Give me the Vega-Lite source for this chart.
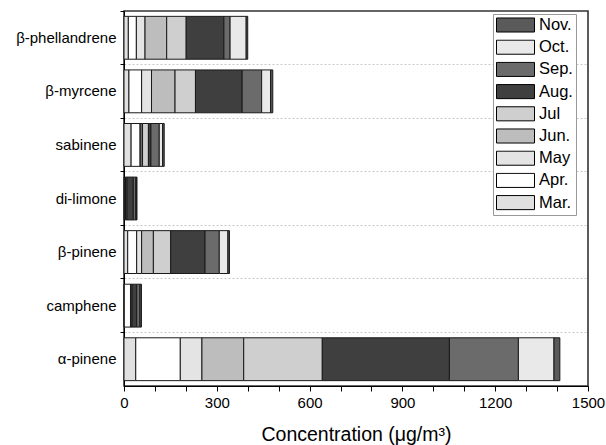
{
  "$schema": "https://vega.github.io/schema/vega-lite/v6.json",
  "autosize": {"type": "none"},
  "padding": {"left": 124, "top": 11, "right": 18, "bottom": 59},
  "width": 464,
  "height": 375,
  "config": {
    "font": "Liberation Sans",
    "view": {"stroke": "#333", "strokeWidth": 1.6},
    "axis": {"domainColor": "#000", "tickColor": "#000", "labelColor": "#000", "titleColor": "#000", "labelFont": "Liberation Sans", "titleFont": "Liberation Sans", "titleFontWeight": "normal"}
  },
  "data": {"values": [
    {"compound": "β-phellandrene", "month": "Mar.", "mn": 3, "value": 14},
    {"compound": "β-phellandrene", "month": "Apr.", "mn": 4, "value": 26},
    {"compound": "β-phellandrene", "month": "May", "mn": 5, "value": 28},
    {"compound": "β-phellandrene", "month": "Jun.", "mn": 6, "value": 70},
    {"compound": "β-phellandrene", "month": "Jul", "mn": 7, "value": 63},
    {"compound": "β-phellandrene", "month": "Aug.", "mn": 8, "value": 122},
    {"compound": "β-phellandrene", "month": "Sep.", "mn": 9, "value": 20},
    {"compound": "β-phellandrene", "month": "Oct.", "mn": 10, "value": 52},
    {"compound": "β-phellandrene", "month": "Nov.", "mn": 11, "value": 5},
    {"compound": "β-myrcene", "month": "Mar.", "mn": 3, "value": 16},
    {"compound": "β-myrcene", "month": "Apr.", "mn": 4, "value": 41},
    {"compound": "β-myrcene", "month": "May", "mn": 5, "value": 32},
    {"compound": "β-myrcene", "month": "Jun.", "mn": 6, "value": 76},
    {"compound": "β-myrcene", "month": "Jul", "mn": 7, "value": 66},
    {"compound": "β-myrcene", "month": "Aug.", "mn": 8, "value": 151},
    {"compound": "β-myrcene", "month": "Sep.", "mn": 9, "value": 63},
    {"compound": "β-myrcene", "month": "Oct.", "mn": 10, "value": 29},
    {"compound": "β-myrcene", "month": "Nov.", "mn": 11, "value": 7},
    {"compound": "sabinene", "month": "Mar.", "mn": 3, "value": 23},
    {"compound": "sabinene", "month": "Apr.", "mn": 4, "value": 29},
    {"compound": "sabinene", "month": "May", "mn": 5, "value": 3},
    {"compound": "sabinene", "month": "Jun.", "mn": 6, "value": 5},
    {"compound": "sabinene", "month": "Jul", "mn": 7, "value": 19},
    {"compound": "sabinene", "month": "Aug.", "mn": 8, "value": 8},
    {"compound": "sabinene", "month": "Sep.", "mn": 9, "value": 27},
    {"compound": "sabinene", "month": "Oct.", "mn": 10, "value": 11},
    {"compound": "sabinene", "month": "Nov.", "mn": 11, "value": 5},
    {"compound": "di-limone", "month": "Mar.", "mn": 3, "value": 2},
    {"compound": "di-limone", "month": "Apr.", "mn": 4, "value": 2},
    {"compound": "di-limone", "month": "May", "mn": 5, "value": 1},
    {"compound": "di-limone", "month": "Jun.", "mn": 6, "value": 2},
    {"compound": "di-limone", "month": "Jul", "mn": 7, "value": 3},
    {"compound": "di-limone", "month": "Aug.", "mn": 8, "value": 20},
    {"compound": "di-limone", "month": "Sep.", "mn": 9, "value": 8},
    {"compound": "di-limone", "month": "Oct.", "mn": 10, "value": 2},
    {"compound": "di-limone", "month": "Nov.", "mn": 11, "value": 2},
    {"compound": "β-pinene", "month": "Mar.", "mn": 3, "value": 12},
    {"compound": "β-pinene", "month": "Apr.", "mn": 4, "value": 29},
    {"compound": "β-pinene", "month": "May", "mn": 5, "value": 16},
    {"compound": "β-pinene", "month": "Jun.", "mn": 6, "value": 38},
    {"compound": "β-pinene", "month": "Jul", "mn": 7, "value": 56},
    {"compound": "β-pinene", "month": "Aug.", "mn": 8, "value": 111},
    {"compound": "β-pinene", "month": "Sep.", "mn": 9, "value": 46},
    {"compound": "β-pinene", "month": "Oct.", "mn": 10, "value": 28},
    {"compound": "β-pinene", "month": "Nov.", "mn": 11, "value": 5},
    {"compound": "camphene", "month": "Mar.", "mn": 3, "value": 1},
    {"compound": "camphene", "month": "Apr.", "mn": 4, "value": 20},
    {"compound": "camphene", "month": "May", "mn": 5, "value": 1},
    {"compound": "camphene", "month": "Jun.", "mn": 6, "value": 1},
    {"compound": "camphene", "month": "Jul", "mn": 7, "value": 3},
    {"compound": "camphene", "month": "Aug.", "mn": 8, "value": 15},
    {"compound": "camphene", "month": "Sep.", "mn": 9, "value": 10},
    {"compound": "camphene", "month": "Oct.", "mn": 10, "value": 4},
    {"compound": "camphene", "month": "Nov.", "mn": 11, "value": 1},
    {"compound": "α-pinene", "month": "Mar.", "mn": 3, "value": 38},
    {"compound": "α-pinene", "month": "Apr.", "mn": 4, "value": 144},
    {"compound": "α-pinene", "month": "May", "mn": 5, "value": 70},
    {"compound": "α-pinene", "month": "Jun.", "mn": 6, "value": 135},
    {"compound": "α-pinene", "month": "Jul", "mn": 7, "value": 254},
    {"compound": "α-pinene", "month": "Aug.", "mn": 8, "value": 411},
    {"compound": "α-pinene", "month": "Sep.", "mn": 9, "value": 223},
    {"compound": "α-pinene", "month": "Oct.", "mn": 10, "value": 115},
    {"compound": "α-pinene", "month": "Nov.", "mn": 11, "value": 19}
  ]},
  "mark": {"type": "bar", "height": {"band": 0.8}, "stroke": "#1a1a1a", "strokeWidth": 1},
  "encoding": {
    "y": {
      "field": "compound", "type": "nominal",
      "sort": ["β-phellandrene", "β-myrcene", "sabinene", "di-limone", "β-pinene", "camphene", "α-pinene"],
      "scale": {"paddingInner": 0, "paddingOuter": 0},
      "axis": {"title": null, "bandPosition": 0, "labelFontSize": 15, "labelPadding": 4, "tickSize": 4, "grid": true, "gridDash": [2, 2], "gridColor": "#c8c8c8", "gridOpacity": {"condition": {"test": "datum.value === 'β-phellandrene'", "value": 0}, "value": 1}, "domainColor": "#000"}
    },
    "x": {
      "field": "value", "type": "quantitative", "stack": "zero",
      "scale": {"domain": [0, 1500], "nice": false},
      "axis": {"title": "Concentration (μg/m³)", "titleFontSize": 19.5, "titlePadding": 15, "values": [0, 100, 200, 300, 400, 500, 600, 700, 800, 900, 1000, 1100, 1200, 1300, 1400, 1500], "labelExpr": "datum.value % 300 === 0 ? datum.label : ''", "labelFontSize": 15, "labelPadding": 4, "tickSize": 5, "grid": false, "labelFlush": false, "format": "d"}
    },
    "order": {"field": "mn", "type": "quantitative", "sort": "ascending"},
    "fill": {
      "field": "month", "type": "nominal",
      "scale": {
        "domain": ["Nov.", "Oct.", "Sep.", "Aug.", "Jul", "Jun.", "May", "Apr.", "Mar."],
        "range": ["#5a5a5a", "#e9e9e9", "#6b6b6b", "#3f3f3f", "#cfcfcf", "#bdbdbd", "#e4e4e4", "#ffffff", "#e0e0e0"]
      },
      "legend": {
        "title": null, "orient": "none", "legendX": 369, "legendY": 3,
        "padding": 3, "strokeColor": "#999", "fillColor": "#fff",
        "symbolType": "M-1,-0.37H1V0.37H-1Z", "symbolSize": 1444,
        "symbolStrokeColor": "#000", "symbolStrokeWidth": 1,
        "clipHeight": 16,
        "labelFontSize": 16.5, "labelColor": "#000", "labelOffset": 4, "rowPadding": 5.2
      }
    }
  }
}
